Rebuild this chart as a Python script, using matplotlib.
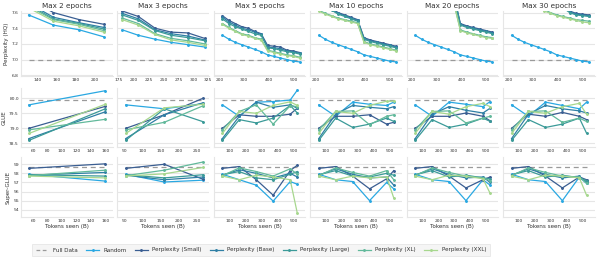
import matplotlib
matplotlib.use("Agg")
import matplotlib.pyplot as plt
from matplotlib.lines import Line2D

EPOCHS = [2, 3, 5, 10, 20, 30]
SERIES = ["Random", "Perplexity (Small)", "Perplexity (Base)", "Perplexity (Large)",
          "Perplexity (XL)", "Perplexity (XXL)"]
COLORS = ["#2aa8e2", "#3a5e92", "#2f7fa5", "#3b9a98", "#62b99b", "#a7d78e"]
FULL_COLOR = "#9a9a9a"

FULL_PPL = 6.99
FULL_GLUE = 79.95
FULL_SGLUE = 58.68

# ---------------- Perplexity (HQ) ----------------
PPL_X_2 = [131, 157, 184, 210]
PPL_2 = [
    [7.57, 7.44, 7.38, 7.29],
    [7.78, 7.60, 7.51, 7.45],
    [7.72, 7.54, 7.47, 7.41],
    [7.70, 7.52, 7.46, 7.39],
    [7.68, 7.51, 7.45, 7.37],
    [7.66, 7.49, 7.43, 7.35],
]
PPL_X_3 = [181, 208, 236, 263, 291, 319]
PPL_3 = [
    [7.38, 7.31, 7.26, 7.22, 7.19, 7.16],
    [7.62, 7.55, 7.40, 7.35, 7.34, 7.27],
    [7.59, 7.52, 7.38, 7.33, 7.30, 7.25],
    [7.57, 7.50, 7.37, 7.31, 7.28, 7.24],
    [7.53, 7.46, 7.33, 7.27, 7.24, 7.20],
    [7.51, 7.44, 7.32, 7.25, 7.22, 7.18],
]
PPL_X_LONG = [212, 238, 264, 290, 317, 343, 369, 395, 421, 447, 473, 499, 525]
PPL_RANDOM_LONG = [7.31, 7.26, 7.22, 7.19, 7.16, 7.13, 7.10, 7.06, 7.04, 7.02, 7.00, 6.98, 6.97]
PPL_5 = [
    [7.56, 7.50, 7.46, 7.42, 7.40, 7.36, 7.33, 7.18, 7.17, 7.16, 7.12, 7.11, 7.09],
    [7.54, 7.48, 7.44, 7.40, 7.38, 7.35, 7.32, 7.16, 7.15, 7.14, 7.11, 7.10, 7.08],
    [7.52, 7.46, 7.42, 7.39, 7.36, 7.33, 7.31, 7.15, 7.14, 7.12, 7.10, 7.09, 7.07],
    [7.46, 7.41, 7.37, 7.33, 7.31, 7.28, 7.26, 7.12, 7.10, 7.08, 7.06, 7.05, 7.03],
    [7.45, 7.40, 7.36, 7.32, 7.30, 7.27, 7.25, 7.11, 7.09, 7.07, 7.05, 7.04, 7.02],
]
PPL_10 = [
    [7.75, 7.70, 7.65, 7.60, 7.57, 7.54, 7.51, 7.28, 7.25, 7.23, 7.21, 7.19, 7.17],
    [7.74, 7.69, 7.64, 7.59, 7.56, 7.53, 7.50, 7.27, 7.24, 7.22, 7.20, 7.18, 7.16],
    [7.73, 7.68, 7.63, 7.58, 7.55, 7.52, 7.49, 7.26, 7.23, 7.21, 7.19, 7.17, 7.15],
    [7.63, 7.59, 7.56, 7.53, 7.51, 7.49, 7.47, 7.23, 7.20, 7.18, 7.16, 7.14, 7.12],
    [7.62, 7.58, 7.55, 7.52, 7.50, 7.48, 7.46, 7.22, 7.19, 7.17, 7.15, 7.13, 7.11],
]
PPL_20 = [
    [8.12, 8.08, 8.04, 8.00, 7.96, 7.92, 7.82, 7.46, 7.43, 7.41, 7.39, 7.37, 7.35],
    [8.11, 8.07, 8.03, 7.99, 7.95, 7.91, 7.81, 7.45, 7.42, 7.40, 7.38, 7.36, 7.34],
    [8.10, 8.06, 8.02, 7.98, 7.94, 7.90, 7.80, 7.44, 7.41, 7.39, 7.37, 7.35, 7.33],
    [8.00, 7.96, 7.92, 7.88, 7.84, 7.80, 7.72, 7.38, 7.35, 7.33, 7.31, 7.29, 7.28],
    [7.99, 7.95, 7.91, 7.87, 7.83, 7.79, 7.71, 7.37, 7.34, 7.32, 7.30, 7.28, 7.27],
]
PPL_30 = [
    [8.30, 8.24, 8.18, 8.12, 8.06, 7.98, 7.90, 7.78, 7.68, 7.62, 7.59, 7.58, 7.57],
    [8.29, 8.23, 8.17, 8.11, 8.05, 7.97, 7.89, 7.77, 7.67, 7.61, 7.58, 7.57, 7.56],
    [8.28, 8.22, 8.16, 8.10, 8.04, 7.96, 7.88, 7.76, 7.66, 7.60, 7.57, 7.56, 7.55],
    [7.95, 7.90, 7.85, 7.80, 7.72, 7.64, 7.60, 7.57, 7.55, 7.53, 7.51, 7.50, 7.49],
    [7.93, 7.88, 7.83, 7.78, 7.70, 7.62, 7.59, 7.56, 7.54, 7.52, 7.50, 7.48, 7.47],
]

# ---------------- GLUE ----------------
GLUE_X_2 = [54, 160]
GLUE_2 = [
    [79.78, 80.25], [79.00, 79.73], [78.66, 79.55], [78.60, 79.65], [78.95, 79.30], [78.83, 79.80],
]
GLUE_X_3 = [54, 160, 267]
GLUE_3 = [
    [79.78, 79.65, 79.82], [79.00, 79.45, 80.00], [78.66, 79.45, 79.85],
    [78.60, 79.65, 79.22], [78.95, 79.20, 79.75], [78.83, 79.68, 79.80],
]
GLUE_X_LONG = [54, 160, 267, 373, 480, 525]
GLUE_5 = [
    [79.78, 79.40, 79.87, 79.89, 79.94, 80.27],
    [79.00, 79.45, 79.40, 79.40, 79.47, 79.67],
    [78.66, 79.40, 79.87, 79.70, 79.78, 79.67],
    [78.60, 79.29, 79.18, 79.34, 79.76, 79.51],
    [78.95, 79.56, 79.78, 79.14, 79.75, 79.72],
    [78.83, 79.56, 79.50, 79.76, 79.88, 79.76],
]
GLUE_10 = [
    [79.78, 79.40, 79.87, 79.80, 79.76, 79.87],
    [79.00, 79.40, 79.40, 79.45, 79.14, 79.20],
    [78.66, 79.47, 79.76, 79.70, 79.65, 79.72],
    [78.60, 79.34, 79.03, 79.14, 79.34, 79.23],
    [78.95, 79.56, 79.58, 79.12, 79.40, 79.45],
    [78.83, 79.56, 79.50, 79.76, 79.90, 79.90],
]
GLUE_20 = [
    [79.78, 79.40, 79.87, 79.80, 79.72, 79.89],
    [79.00, 79.40, 79.40, 79.51, 79.40, 79.25],
    [78.66, 79.47, 79.72, 79.60, 79.51, 79.67],
    [78.60, 79.29, 79.03, 79.14, 79.34, 79.23],
    [78.95, 79.56, 79.58, 79.18, 79.34, 79.40],
    [78.83, 79.56, 79.47, 79.72, 79.83, 79.72],
]
GLUE_30 = [
    [79.78, 79.40, 79.87, 79.76, 79.65, 79.87],
    [79.00, 79.47, 79.40, 79.53, 79.40, 79.29],
    [78.66, 79.47, 79.76, 79.65, 79.58, 79.51],
    [78.60, 79.29, 79.03, 79.14, 79.34, 78.84],
    [78.95, 79.56, 79.58, 79.20, 79.34, 79.23],
    [78.83, 79.56, 79.50, 79.72, 79.83, 79.47],
]

# ---------------- SuperGLUE ----------------
SG_X_2 = [54, 160]
SG_2 = [
    [57.90, 57.15], [58.55, 59.05], [57.80, 58.10], [57.85, 57.70], [57.75, 58.35], [57.70, 57.50],
]
SG_X_3 = [54, 160, 267]
SG_3 = [
    [57.90, 57.05, 57.25], [58.55, 59.00, 57.35], [57.80, 57.30, 57.60],
    [57.85, 57.50, 57.85], [57.75, 58.35, 59.25], [57.70, 57.95, 58.65],
]
SG_X_LONG = [54, 160, 267, 373, 480, 525]
SG_5 = [
    [57.90, 57.30, 56.70, 54.95, 57.10, 56.80],
    [58.55, 58.75, 57.30, 55.60, 58.30, 58.90],
    [57.80, 58.40, 58.00, 57.50, 58.00, 57.60],
    [57.85, 58.20, 57.50, 57.30, 57.90, 58.20],
    [57.75, 58.60, 58.20, 57.70, 58.50, 57.90],
    [57.70, 57.30, 57.80, 57.60, 57.30, 53.60],
]
SG_10 = [
    [57.90, 57.30, 57.10, 55.00, 57.00, 56.30],
    [58.55, 58.75, 57.70, 56.30, 57.40, 58.30],
    [57.80, 58.50, 57.90, 57.50, 57.60, 56.70],
    [57.85, 58.30, 57.70, 57.60, 58.00, 57.80],
    [57.75, 58.60, 58.10, 57.70, 58.30, 57.30],
    [57.70, 57.30, 57.70, 57.50, 57.60, 55.30],
]
SG_20 = [
    [57.90, 57.30, 57.10, 55.00, 57.30, 56.70],
    [58.55, 58.75, 57.70, 56.40, 57.30, 57.60],
    [57.80, 58.50, 57.90, 57.50, 57.60, 57.00],
    [57.85, 58.30, 57.60, 57.80, 57.50, 57.40],
    [57.75, 58.60, 58.10, 57.70, 57.50, 57.20],
    [57.70, 57.30, 57.80, 57.70, 57.40, 55.80],
]
SG_30 = [
    [57.90, 57.30, 57.10, 55.00, 57.60, 56.90],
    [58.55, 58.75, 57.70, 56.40, 57.60, 57.30],
    [57.80, 58.50, 57.90, 57.50, 57.70, 57.00],
    [57.85, 58.30, 57.60, 57.80, 57.50, 57.20],
    [57.75, 58.60, 58.10, 57.70, 57.60, 56.90],
    [57.70, 57.30, 57.80, 57.70, 57.50, 55.60],
]

ROW_LABELS = ["Perplexity (HQ)", "GLUE", "Super-GLUE"]
FULL_VALUES = [FULL_PPL, FULL_GLUE, FULL_SGLUE]

# x tick labels per row / column group
PPL_XTICKS = [[140, 160, 180, 200], [175, 200, 225, 250, 275, 300, 325], [200, 300, 400, 500]]
EVAL_XTICKS = [[60, 80, 100, 120, 140, 160], [50, 100, 150, 200, 250], [100, 200, 300, 400, 500]]

ppl_panels = [
    (PPL_X_2, PPL_2), (PPL_X_3, PPL_3),
    (PPL_X_LONG, [PPL_RANDOM_LONG] + PPL_5), (PPL_X_LONG, [PPL_RANDOM_LONG] + PPL_10),
    (PPL_X_LONG, [PPL_RANDOM_LONG] + PPL_20), (PPL_X_LONG, [PPL_RANDOM_LONG] + PPL_30),
]
glue_panels = [(GLUE_X_2, GLUE_2), (GLUE_X_3, GLUE_3), (GLUE_X_LONG, GLUE_5),
               (GLUE_X_LONG, GLUE_10), (GLUE_X_LONG, GLUE_20), (GLUE_X_LONG, GLUE_30)]
sg_panels = [(SG_X_2, SG_2), (SG_X_3, SG_3), (SG_X_LONG, SG_5),
             (SG_X_LONG, SG_10), (SG_X_LONG, SG_20), (SG_X_LONG, SG_30)]
ALL_PANELS = [ppl_panels, glue_panels, sg_panels]

# ---------------- layout ----------------
W, H = 598, 263
fig = plt.figure(figsize=(W / 100, H / 100), dpi=100)
row_tb = [(11, 76), (88, 147), (157, 217)]
ylims = [(6.79, 7.62), (78.38, 80.34), (53.2, 59.8)]
yticks = [[6.8, 7.0, 7.2, 7.4, 7.6], [78.5, 79.0, 79.5, 80.0], [54, 55, 56, 57, 58, 59]]
ppl_xlims = [(123, 219), (173, 326), (177, 548)]
eval_xlims = [(43, 170), (31, 283), (0, 575)]
col_left0, col_pitch, col_w = 21, 96.4, 91.5

GRID = "#e6e6e6"
TXT = "#333333"

for r in range(3):
    top, bot = row_tb[r]
    for c in range(6):
        left = col_left0 + c * col_pitch
        ax = fig.add_axes([left / W, 1 - bot / H, col_w / W, (bot - top) / H])
        xs, ys_list = ALL_PANELS[r][c]
        ax.plot([xs[0], xs[-1]], [FULL_VALUES[r]] * 2, color=FULL_COLOR, ls=(0, (4, 3)),
                lw=0.9, zorder=2)
        for s, ys in enumerate(ys_list):
            ax.plot(xs, ys, color=COLORS[s], lw=0.9, marker='.', ms=2.2, zorder=3)
        g = min(c, 2)
        ticks = PPL_XTICKS[g] if r == 0 else EVAL_XTICKS[g]
        lims = ppl_xlims[g] if r == 0 else eval_xlims[g]
        ax.set_xticks(ticks)
        ax.set_xlim(*lims)
        ax.set_ylim(*ylims[r])
        ax.set_yticks(yticks[r])
        ax.grid(axis='y', color=GRID, lw=0.8)
        ax.grid(axis='x', visible=False)
        ax.set_axisbelow(True)
        for sp in ['top', 'right']:
            ax.spines[sp].set_visible(False)
        for sp in ['left', 'bottom']:
            ax.spines[sp].set_color(GRID)
            ax.spines[sp].set_linewidth(0.8)
        ax.tick_params(length=0, labelsize=3.2, pad=1.5, colors=TXT)
        if c == 0:
            ax.set_ylabel(ROW_LABELS[r], fontsize=4.1, color=TXT, labelpad=2)
        else:
            ax.tick_params(labelleft=False)
        if r == 0:
            ax.set_title(f"Max {EPOCHS[c]} epochs", fontsize=5.2, color=TXT, pad=2.5)
        if r == 2:
            ax.set_xlabel("Tokens seen (B)", fontsize=4.1, color=TXT, labelpad=1)

handles = [Line2D([], [], color=FULL_COLOR, ls=(0, (3, 2)), lw=0.9, label="Full Data")]
for s, name in enumerate(SERIES):
    handles.append(Line2D([], [], color=COLORS[s], lw=0.9, marker='.', ms=2.2, label=name))
leg = fig.legend(handles=handles, loc='center', bbox_to_anchor=(261 / W, 1 - 250 / H),
                 ncol=7, fontsize=4.1, frameon=True, handlelength=2.2, columnspacing=1.5,
                 handletextpad=0.8, borderpad=0.7)
leg.get_frame().set_facecolor("#f3f3f3")
leg.get_frame().set_edgecolor("#e2e2e2")
leg.get_frame().set_linewidth(0.6)
leg.get_frame().set_boxstyle("square", pad=0.0)
for t in leg.get_texts():
    t.set_color(TXT)

fig.savefig("out.png", dpi=100)
